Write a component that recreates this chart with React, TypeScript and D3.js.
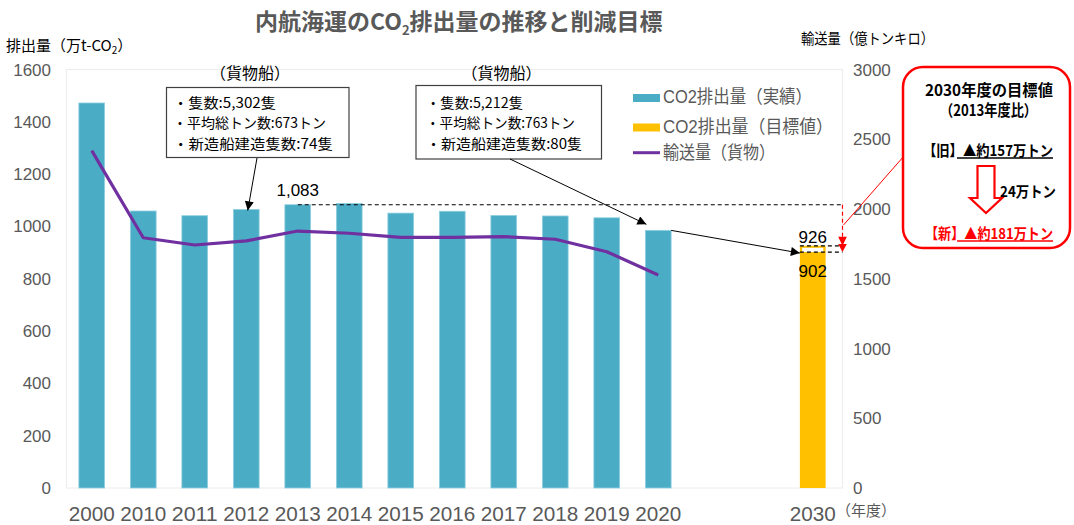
import React from "react";
import * as d3 from "d3";

// ---------- data ----------
const categories = ["2000", "2010", "2011", "2012", "2013", "2014", "2015", "2016", "2017", "2018", "2019", "2020", "gap1", "gap2", "2030"];
const xTickLabels = ["2000", "2010", "2011", "2012", "2013", "2014", "2015", "2016", "2017", "2018", "2019", "2020", "", "", "2030"];
const actualYears = ["2000", "2010", "2011", "2012", "2013", "2014", "2015", "2016", "2017", "2018", "2019", "2020"];
const co2Actual = [1472, 1059, 1041, 1065, 1083, 1088, 1051, 1058, 1042, 1040, 1033, 985];
const transportCargo = [2418, 1794, 1742, 1771, 1842, 1826, 1797, 1797, 1802, 1783, 1694, 1527];
const targetYear = "2030";
const targetOld = 926;
const targetNew = 902;
const baseYear = "2013";
const baseValue = 1083;
const leftTicks = [0, 200, 400, 600, 800, 1000, 1200, 1400, 1600];
const rightTicks = [0, 500, 1000, 1500, 2000, 2500, 3000];
const legendLabels = ["CO2排出量（実績）", "CO2排出量（目標値）", "輸送量（貨物）"];
const box1Lines = ["・隻数:5,302隻", "・平均総トン数:673トン", "・新造船建造隻数:74隻"];
const box2Lines = ["・隻数:5,212隻", "・平均総トン数:763トン", "・新造船建造隻数:80隻"];
const box1Widths = [103, 153, 160];
const box2Widths = [97, 149, 156];

const TEAL = "#4BACC6";
const GOLD = "#FFC000";
const PURPLE = "#7030A0";
const RED = "#FF0000";
const GRAY = "#595959";
const FONT = "'Liberation Sans', Arial, 'Noto Sans CJK JP', sans-serif";
const JFONT = "'Noto Sans CJK JP', 'Liberation Sans', sans-serif";

export default function App() {
  const W = 1074, H = 525;
  const plotTop = 69.5, plotBottom = 488, plotLeft = 66.5, plotRight = 842.5;

  const x = d3.scaleBand<string>().domain(categories).range([66, 838.5]).paddingInner(0.5).paddingOuter(0.25);
  const yL = d3.scaleLinear().domain([0, 1600]).range([plotBottom, plotTop]);
  const yR = d3.scaleLinear().domain([0, 3000]).range([plotBottom, plotTop]);
  const bw = x.bandwidth();
  const cx = (c: string) => (x(c) as number) + bw / 2;

  const line = d3.line<number>()
    .x((_, i) => cx(actualYears[i]))
    .y((d) => yR(d));

  const x2030 = x(targetYear) as number;
  const x2020 = x("2020") as number;
  const v2020 = co2Actual[actualYears.indexOf("2020")];
  const v2012 = co2Actual[actualYears.indexOf("2012")];

  return (
    <svg width={W} height={H} style={{ position: "absolute", left: 0, top: 0, background: "#fff" }} fontFamily={FONT}>
      <defs>
        <marker id="ah" viewBox="0 0 10 10" refX="10" refY="5" markerWidth="10" markerHeight="9" markerUnits="userSpaceOnUse" orient="auto">
          <path d="M0,0 L10,5 L0,10 z" fill="#000" />
        </marker>
      </defs>

      {/* title */}
      <text x={255} y={30} fontFamily={JFONT} fontWeight={700} fontSize={23} fill={GRAY}>
        <tspan>内航海運のCO</tspan>
        <tspan fontSize={13} dy={5}>2</tspan>
        <tspan dy={-5}>排出量の推移と削減目標</tspan>
      </text>

      {/* axis titles */}
      <text x={6} y={51} fontSize={15} fill="#000" fontFamily={JFONT}>
        <tspan>排出量（万t-CO</tspan>
        <tspan fontSize={10} dy={3}>2</tspan>
        <tspan dy={-3}>）</tspan>
      </text>
      <text x={801} y={44} fontSize={15} fill="#000" fontFamily={JFONT} textLength={133} lengthAdjust="spacingAndGlyphs">輸送量（億トンキロ）</text>

      {/* plot border */}
      <rect x={plotLeft} y={plotTop} width={plotRight - plotLeft} height={plotBottom - plotTop} fill="none" stroke="#ececec" strokeWidth={1} />

      {/* left ticks */}
      {leftTicks.map((t) => (
        <text key={"l" + t} x={51} y={yL(t) + 6} textAnchor="end" fontSize={17} fill={GRAY}>{t}</text>
      ))}
      {/* right ticks */}
      {rightTicks.map((t) => (
        <text key={"r" + t} x={853} y={yR(t) + 6} textAnchor="start" fontSize={17} fill={GRAY}>{t}</text>
      ))}

      {/* x labels */}
      {categories.map((c, i) =>
        xTickLabels[i] ? (
          <text key={"x" + c} x={cx(c)} y={521} textAnchor="middle" fontSize={20} fill={GRAY} textLength={46} lengthAdjust="spacingAndGlyphs">{xTickLabels[i]}</text>
        ) : null
      )}
      <text x={836} y={516} fontSize={15} fill={GRAY} fontFamily={JFONT}>（年度）</text>

      {/* bars */}
      {actualYears.map((yr, i) => (
        <rect key={"b" + yr} x={x(yr)} y={yL(co2Actual[i])} width={bw} height={yL(0) - yL(co2Actual[i])} fill={TEAL} stroke="#8fd0e0" strokeWidth={0.8} />
      ))}
      <rect x={x2030} y={yL(targetOld)} width={bw} height={yL(0) - yL(targetOld)} fill={GOLD} />
      <rect x={x2030 + 2.3} y={yL(targetOld) + 2} width={bw - 4.6} height={yL(targetNew) - yL(targetOld) - 2} fill="#fff" />

      {/* purple line */}
      <path d={line(transportCargo) || ""} fill="none" stroke={PURPLE} strokeWidth={3.2} strokeLinejoin="round" />

      {/* dashed reference lines */}
      <line x1={cx(baseYear)} x2={plotRight} y1={yL(baseValue)} y2={yL(baseValue)} stroke="#000" strokeWidth={1.2} strokeDasharray="4,3" />
      <line x1={x2030} x2={plotRight} y1={yL(targetOld)} y2={yL(targetOld)} stroke="#000" strokeWidth={1.2} strokeDasharray="4,3" />
      <line x1={x2030} x2={plotRight} y1={yL(targetNew)} y2={yL(targetNew)} stroke="#000" strokeWidth={1.2} strokeDasharray="4,3" />

      {/* red dashed vertical arrow */}
      <line x1={plotRight} x2={plotRight} y1={yL(baseValue)} y2={yL(targetNew) - 8} stroke={RED} strokeWidth={1.2} strokeDasharray="4,3" />
      <path d={`M${plotRight - 4.3},${yL(targetOld) - 9} L${plotRight + 4.3},${yL(targetOld) - 9} L${plotRight},${yL(targetOld)} z`} fill={RED} />
      <path d={`M${plotRight - 4.3},${yL(targetNew) - 8} L${plotRight + 4.3},${yL(targetNew) - 8} L${plotRight},${yL(targetNew)} z`} fill={RED} />

      {/* value labels */}
      <text x={cx(baseYear)} y={yL(baseValue) - 9} textAnchor="middle" fontSize={17} fill="#000">1,083</text>
      <text x={cx(targetYear)} y={yL(targetOld) - 3} textAnchor="middle" fontSize={17} fill="#000">{targetOld}</text>
      <text x={cx(targetYear)} y={yL(targetNew) + 25} textAnchor="middle" fontSize={17} fill="#000">{targetNew}</text>

      {/* (貨物船) labels */}
      <text x={250} y={79} textAnchor="middle" fontSize={16} fill="#000" fontFamily={JFONT}>（貨物船）</text>
      <text x={501.5} y={79} textAnchor="middle" fontSize={16} fill="#000" fontFamily={JFONT}>（貨物船）</text>

      {/* annotation boxes */}
      <rect x={166.5} y={87.5} width={182.5} height={70} fill="#fff" stroke="#404040" strokeWidth={1.2} />
      {box1Lines.map((s, i) => (
        <text key={"b1" + i} x={173} y={107.5 + i * 20.5} fontSize={14.2} fill="#000" fontFamily={JFONT} textLength={box1Widths[i]} lengthAdjust="spacingAndGlyphs">{s}</text>
      ))}
      <rect x={416} y={85.5} width={185.5} height={73.5} fill="#fff" stroke="#404040" strokeWidth={1.2} />
      {box2Lines.map((s, i) => (
        <text key={"b2" + i} x={426} y={107.5 + i * 20.5} fontSize={14.2} fill="#000" fontFamily={JFONT} textLength={box2Widths[i]} lengthAdjust="spacingAndGlyphs">{s}</text>
      ))}

      {/* arrows */}
      <line x1={257} y1={158} x2={cx("2012") + 1.5} y2={yL(v2012) + 1} stroke="#000" strokeWidth={1} markerEnd="url(#ah)" />
      <line x1={510} y1={159} x2={x2020 + 1} y2={yL(v2020) - 6} stroke="#000" strokeWidth={1} markerEnd="url(#ah)" />
      <line x1={x2020 + bw} y1={yL(v2020)} x2={x2030} y2={yL(targetNew) + 1} stroke="#000" strokeWidth={1} markerEnd="url(#ah)" />

      {/* legend */}
      <rect x={633} y={94} width={27} height={8} fill={TEAL} />
      <text x={663} y={103} fontSize={18} fill={GRAY} fontFamily={FONT} textLength={149} lengthAdjust="spacingAndGlyphs">{legendLabels[0]}</text>
      <rect x={633} y={123.5} width={27} height={8} fill={GOLD} />
      <text x={663} y={133} fontSize={18} fill={GRAY} fontFamily={FONT} textLength={170} lengthAdjust="spacingAndGlyphs">{legendLabels[1]}</text>
      <line x1={633} x2={660} y1={152.7} y2={152.7} stroke={PURPLE} strokeWidth={3} />
      <text x={663} y={159} fontSize={18} fill={GRAY} fontFamily={FONT} textLength={112} lengthAdjust="spacingAndGlyphs">{legendLabels[2]}</text>

      {/* red callout */}
      <line x1={904} y1={156} x2={843.5} y2={225} stroke={RED} strokeWidth={1} />
      <rect x={903} y={67} width={167} height={181} rx={20} ry={20} fill="#fff" stroke={RED} strokeWidth={2.5} />
      <g fontFamily={JFONT} fontWeight={700}>
        <text x={989} y={96} textAnchor="middle" fontSize={15.5} fill="#000" textLength={128} lengthAdjust="spacingAndGlyphs">2030年度の目標値</text>
        <text x={988.5} y={116} textAnchor="middle" fontSize={15.5} fill="#000" textLength={97} lengthAdjust="spacingAndGlyphs">（2013年度比）</text>
        <text x={923} y={155.5} fontSize={15} fill="#000" textLength={130} lengthAdjust="spacingAndGlyphs">【旧】▲約157万トン</text>
        <line x1={957} x2={1053} y1={158} y2={158} stroke="#000" strokeWidth={1.3} />
        <path d="M977.5,166 L994.5,166 L994.5,198 L1002,198 L986,213 L970,198 L977.5,198 z" fill="#fff" stroke={RED} strokeWidth={2.2} strokeLinejoin="miter" />
        <text x={1000} y={197} fontSize={15} fill="#000" textLength={56} lengthAdjust="spacingAndGlyphs">24万トン</text>
        <text x={925} y={238.5} fontSize={15} fill={RED} textLength={128} lengthAdjust="spacingAndGlyphs">【新】▲約181万トン</text>
        <line x1={957} x2={1053} y1={241} y2={241} stroke={RED} strokeWidth={1.3} />
      </g>
    </svg>
  );
}
